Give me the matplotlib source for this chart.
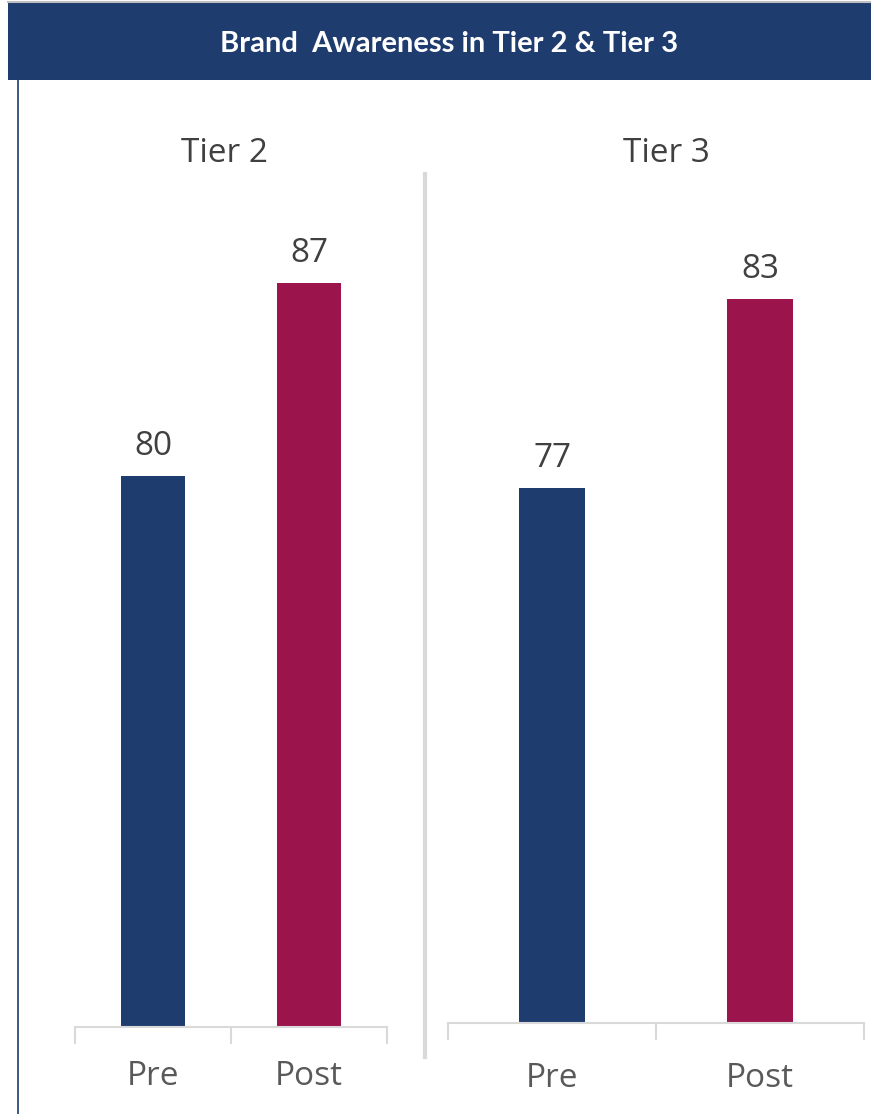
import matplotlib
matplotlib.use("Agg")
import matplotlib.pyplot as plt
from matplotlib.patches import Rectangle
from matplotlib.lines import Line2D

# ---- data ----
title = "Brand  Awareness in Tier 2 & Tier 3"
panels = ["Tier 2", "Tier 3"]
categories = ["Pre", "Post"]
tier2_values = [80, 87]
tier3_values = [77, 83]

BLUE = "#1F3C6F"
RED = "#9B154C"
GRID = "#D9D9D9"
TXT = "#404040"
TICK = "#595959"

W, H = 871, 1114
fig = plt.figure(figsize=(W / 100, H / 100), dpi=100)
fig.patch.set_facecolor("white")

def fx(x):
    return x / W

def fy(y):
    return 1 - y / H

# header band
fig.patches.append(Rectangle((fx(8), fy(80)), fx(871) - fx(8), fy(3) - fy(80),
                             transform=fig.transFigure, facecolor=BLUE,
                             edgecolor="none", zorder=0))
fig.lines.append(Line2D([fx(8), fx(871)], [fy(1.5), fy(1.5)], transform=fig.transFigure,
                        color="#BFBFBF", lw=1.5))
fig.text(fx(449), fy(52), title, color="white", fontsize=21, fontweight="bold",
         family=["Lato", "DejaVu Sans"], ha="center", va="baseline")

# left border line
fig.lines.append(Line2D([fx(18), fx(18)], [fy(80), fy(1114)], transform=fig.transFigure,
                        color=BLUE, lw=1.2))
# separator
fig.lines.append(Line2D([fx(425), fx(425)], [fy(174), fy(1057)], transform=fig.transFigure,
                        color=GRID, lw=3))

def panel(x0, x1, y_bottom, px_per_unit, values, bar_w, title_x, tick_base_y, label):
    ymin, ymax = 60, 90
    top = y_bottom - (ymax - ymin) * px_per_unit
    ax = fig.add_axes([fx(x0), fy(y_bottom), fx(x1) - fx(x0), fy(top) - fy(y_bottom)])
    ax.set_facecolor("none")
    xs = list(range(len(categories)))
    ax.bar(xs, values, width=bar_w, bottom=0, color=[BLUE, RED], zorder=2)
    ax.set_xlim(-0.5, len(categories) - 0.5)
    ax.set_ylim(ymin, ymax)
    for s in ["top", "left", "right"]:
        ax.spines[s].set_visible(False)
    ax.spines["bottom"].set_color(GRID)
    ax.spines["bottom"].set_linewidth(1.5)
    ax.set_yticks([])
    ax.set_xticks(xs)
    ax.set_xticklabels([])
    ax.tick_params(axis="x", which="major", length=0)
    ax.set_xticks([-0.5, 0.5, 1.5], minor=True)
    ax.tick_params(axis="x", which="minor", length=12, width=1.5, color=GRID)
    for x, v in zip(xs, values):
        ax.annotate(f"{v}", (x, v), xytext=(0, 15), textcoords="offset points",
                    ha="center", va="baseline", fontsize=24, color=TXT,
                    family=["Open Sans", "DejaVu Sans"])
    for x, c in zip(xs, categories):
        cx = x0 + (x + 0.5) * (x1 - x0) / len(categories)
        fig.text(fx(cx), fy(tick_base_y), c, ha="center", va="baseline", fontsize=24,
                 color=TICK, family=["Open Sans", "DejaVu Sans"])
    fig.text(fx(title_x), fy(162), label, ha="center", va="baseline", fontsize=24,
             color=TXT, family=["Open Sans", "DejaVu Sans"])
    return ax

panel(75, 387, 1027, 27.57, tier2_values, 64 / 156, 224, 1085, panels[0])
panel(448, 864, 1023, 31.5, tier3_values, 66 / 208, 666, 1087, panels[1])

fig.savefig("out.png", dpi=100)
